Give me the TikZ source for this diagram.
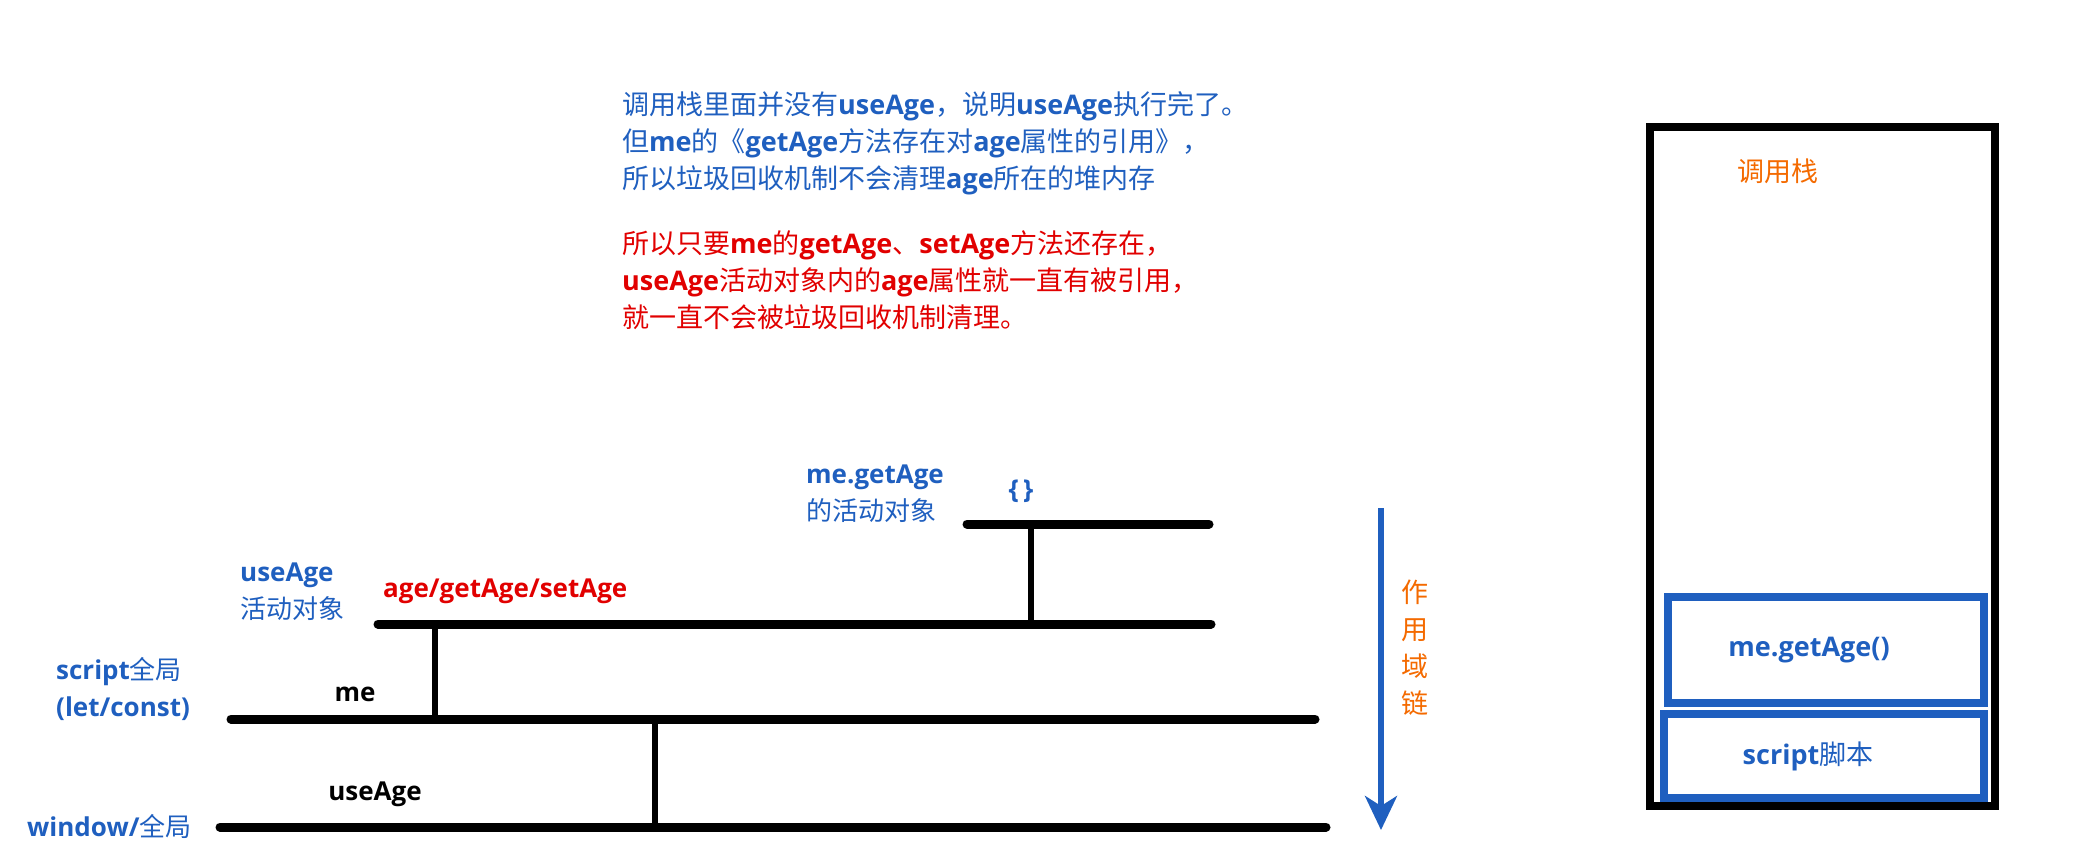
\documentclass[tikz,border=0pt]{standalone}
\usepackage{fontspec}
\setmainfont{Noto Sans CJK SC}
\newfontfamily\latinfont{Open Sans}
\usetikzlibrary{arrows.meta}

\definecolor{noteblue}{HTML}{1F5FBF}
\definecolor{notered}{HTML}{E10000}
\definecolor{noteorange}{HTML}{F46A00}

\newcommand\en[1]{{\latinfont\bfseries #1}}

\begin{document}
\begin{tikzpicture}[x=1pt,y=-1pt,
  level/.style={line width=9pt,line cap=round},
  link/.style={line width=6pt},
  lbl/.style={inner sep=0pt,anchor=west,align=left,font=\fontsize{26}{37}\selectfont},
  note/.style={inner sep=0pt,anchor=north west,align=left,font=\fontsize{27}{37}\selectfont},
  frame/.style={draw=noteblue,line width=8pt,inner sep=0pt}
]
  \useasboundingbox (0,0) rectangle (2092,861);

  % Notes
  \node[note,text=noteblue] (whynote) at (622,91)
    {调用栈里面并没有\en{useAge}，说明\en{useAge}执行完了。\\
     但\en{me}的《\en{getAge}方法存在对\en{age}属性的引用》，\\
     所以垃圾回收机制不会清理\en{age}所在的堆内存};
  \node[note,text=notered] (keepnote) at (622,230)
    {所以只要\en{me}的\en{getAge}、\en{setAge}方法还存在，\\
     \en{useAge}活动对象内的\en{age}属性就一直有被引用，\\
     就一直不会被垃圾回收机制清理。};

  % Scope levels
  \coordinate (m1) at (967,524);  \coordinate (m2) at (1209,524);
  \coordinate (u1) at (378,624);  \coordinate (u2) at (1211,624);
  \coordinate (s1) at (231,719);  \coordinate (s2) at (1315,719);
  \coordinate (w1) at (220,827);  \coordinate (w2) at (1326,827);
  \draw[level] (m1) -- (m2);
  \draw[level] (u1) -- (u2);
  \draw[level] (s1) -- (s2);
  \draw[level] (w1) -- (w2);

  % Links between levels
  \coordinate (k1) at (1031,524);
  \coordinate (k2) at (435,624);
  \coordinate (k3) at (655,719);
  \draw[link] (k1) -- (k1 |- u1);
  \draw[link] (k2) -- (k2 |- s1);
  \draw[link] (k3) -- (k3 |- w1);

  % Level labels
  \node[lbl,text=noteblue] (getagelbl) at (806,494) {\en{me.getAge}\\的活动对象};
  \node[lbl,text=noteblue,anchor=center] (braces) at (1021,491) {\en{\{\,\}}};
  \node[lbl,text=noteblue] (useagelbl) at (240,592) {\en{useAge}\\活动对象};
  \node[lbl,text=notered] (vars) at (383,591) {\en{age/getAge/setAge}};
  \node[lbl,text=noteblue] (scriptlbl) at (56,689) {\en{script}全局\\\en{(let/const)}};
  \node[lbl,anchor=center] (melbl) at (355,694) {\en{me}};
  \node[lbl,anchor=center] (uselbl) at (375,794) {\en{useAge}};
  \node[lbl,text=noteblue] (windowlbl) at (27,826) {\en{window/}全局};

  % Scope chain arrow
  \coordinate (a1) at (1381,508);
  \coordinate (a2) at (1381,830);
  \draw[noteblue,line width=5.5pt,-{Stealth[length=34pt,width=32pt,inset=10pt]}] (a1) -- (a2);
  \node[lbl,anchor=center,align=center,text=noteorange,font=\fontsize{27}{37}\selectfont] (chain) at (1415,648) {作\\用\\域\\链};

  % Call stack
  \draw[line width=8pt] (1650,127) rectangle (1995,806);
  \node[lbl,anchor=center,text=noteorange,font=\fontsize{27}{37}\selectfont] (stacklbl) at (1778,171) {调用栈};
  \node[frame,minimum width=316pt,minimum height=106pt] (getageframe) at (1826,650) {};
  \node[frame,minimum width=320pt,minimum height=84pt] (scriptframe) at (1824,756) {};
  \node[lbl,anchor=center,text=noteblue,font=\fontsize{27}{32}\selectfont] (getagecall) at ([xshift=-17pt]getageframe.center) {\en{me.getAge()}};
  \node[lbl,anchor=center,text=noteblue,font=\fontsize{27}{32}\selectfont] (scriptcall) at ([xshift=-16pt]scriptframe.center) {\en{script}脚本};

\end{tikzpicture}
\end{document}
